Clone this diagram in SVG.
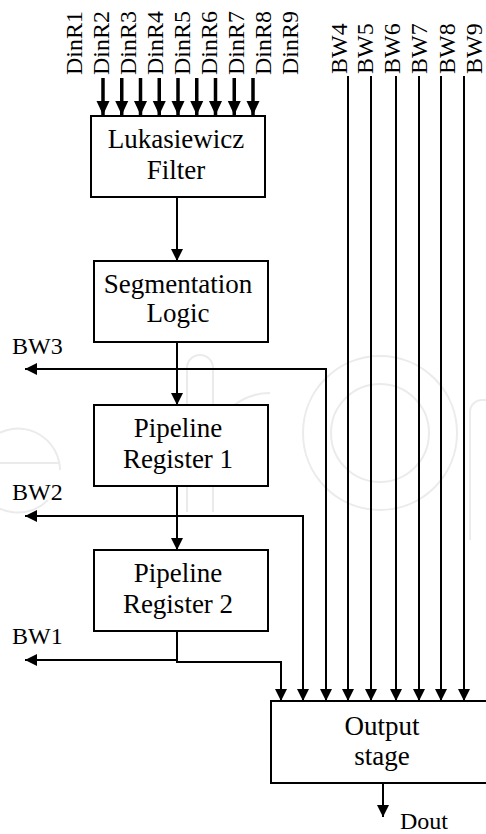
<svg xmlns="http://www.w3.org/2000/svg" width="486" height="834" viewBox="0 0 486 834">
  <style>
    .lbl { font-family: "Liberation Serif", "Times New Roman", serif; font-size: 24px; fill: #000; }
    .box-text { font-family: "Liberation Serif", "Times New Roman", serif; font-size: 27px; fill: #000; text-anchor: middle; }
    .box { fill: #fff; stroke: #000; stroke-width: 2; }
    .wire { fill: none; stroke: #000; stroke-width: 2; }
    .bus { fill: none; stroke: #000; stroke-width: 3.5; }
    .mark { fill: none; stroke: #ebebeb; stroke-width: 2; }
  </style>
  <defs>
    <marker id="arrow" markerUnits="userSpaceOnUse" viewBox="0 0 12 12" refX="12" refY="6" markerWidth="12" markerHeight="12" orient="auto">
      <path d="M0,0 L12,6 L0,12 Z" fill="#000"/>
    </marker>
    <marker id="arrow-bold" markerUnits="userSpaceOnUse" viewBox="0 0 14 14" refX="14" refY="7" markerWidth="14" markerHeight="14" orient="auto">
      <path d="M0,0.5 L14,7 L0,13.5 Z" fill="#000"/>
    </marker>
  </defs>

  <rect width="486" height="834" fill="#fff"/>

  <!-- faint background logo -->
  <g id="background-logo">
    <path class="mark" d="M60,470 A42,42 0 1 0 48,500"/>
    <path class="mark" d="M0,463 H60"/>
    <path class="mark" d="M187,512 V368 A13,13 0 0 1 213,368 V512"/>
    <path class="mark" d="M213,430 Q235,393 270,393"/>
    <circle class="mark" cx="380" cy="433" r="77"/>
    <circle class="mark" cx="380" cy="433" r="49"/>
    <path class="mark" d="M470,540 V412 A12,12 0 0 1 482,400 H490"/>
  </g>

  <!-- input labels -->
  <g id="inputs">
    <text class="lbl" transform="translate(82,75) rotate(-90)">DinR1</text>
    <text class="lbl" transform="translate(109,75) rotate(-90)">DinR2</text>
    <text class="lbl" transform="translate(136,75) rotate(-90)">DinR3</text>
    <text class="lbl" transform="translate(163,75) rotate(-90)">DinR4</text>
    <text class="lbl" transform="translate(190,75) rotate(-90)">DinR5</text>
    <text class="lbl" transform="translate(217,75) rotate(-90)">DinR6</text>
    <text class="lbl" transform="translate(244,75) rotate(-90)">DinR7</text>
    <text class="lbl" transform="translate(271,75) rotate(-90)">DinR8</text>
    <text class="lbl" transform="translate(298,75) rotate(-90)">DinR9</text>
    <text class="lbl" transform="translate(347,74) rotate(-90)">BW4</text>
    <text class="lbl" transform="translate(373,74) rotate(-90)">BW5</text>
    <text class="lbl" transform="translate(400,74) rotate(-90)">BW6</text>
    <text class="lbl" transform="translate(427,74) rotate(-90)">BW7</text>
    <text class="lbl" transform="translate(455,74) rotate(-90)">BW8</text>
    <text class="lbl" transform="translate(482,74) rotate(-90)">BW9</text>
  </g>

  <!-- processing blocks -->
  <g id="lukasiewicz-filter">
    <rect class="box" x="91" y="116" width="174" height="81"/>
    <text class="box-text" x="176" y="148">Lukasiewicz</text>
    <text class="box-text" x="176" y="179">Filter</text>
  </g>
  <g id="segmentation-logic">
    <rect class="box" x="94" y="261" width="174" height="81"/>
    <text class="box-text" x="178" y="293">Segmentation</text>
    <text class="box-text" x="178" y="322">Logic</text>
  </g>
  <g id="pipeline-register-1">
    <rect class="box" x="94" y="405" width="174" height="81"/>
    <text class="box-text" x="178" y="437">Pipeline</text>
    <text class="box-text" x="178" y="468">Register 1</text>
  </g>
  <g id="pipeline-register-2">
    <rect class="box" x="94" y="550" width="174" height="81"/>
    <text class="box-text" x="178" y="582">Pipeline</text>
    <text class="box-text" x="178" y="613">Register 2</text>
  </g>
  <g id="output-stage">
    <rect class="box" x="271" y="701" width="220" height="82"/>
    <text class="box-text" x="382" y="735">Output</text>
    <text class="box-text" x="382" y="765">stage</text>
  </g>

  <!-- output labels -->
  <g id="outputs">
    <text class="lbl" x="12" y="354">BW3</text>
    <text class="lbl" x="12" y="500">BW2</text>
    <text class="lbl" x="12" y="644">BW1</text>
    <text class="lbl" x="400" y="829">Dout</text>
  </g>

  <!-- connectors -->
  <g id="connectors">
    <!-- pixel inputs into the filter -->
    <path class="bus" marker-end="url(#arrow-bold)" d="M103,78 V115"/>
    <path class="bus" marker-end="url(#arrow-bold)" d="M121.75,78 V115"/>
    <path class="bus" marker-end="url(#arrow-bold)" d="M140.5,78 V115"/>
    <path class="bus" marker-end="url(#arrow-bold)" d="M159.25,78 V115"/>
    <path class="bus" marker-end="url(#arrow-bold)" d="M178,78 V115"/>
    <path class="bus" marker-end="url(#arrow-bold)" d="M196.75,78 V115"/>
    <path class="bus" marker-end="url(#arrow-bold)" d="M215.5,78 V115"/>
    <path class="bus" marker-end="url(#arrow-bold)" d="M234.25,78 V115"/>
    <path class="bus" marker-end="url(#arrow-bold)" d="M253,78 V115"/>

    <!-- main pipeline -->
    <path class="wire" marker-end="url(#arrow)" d="M177,197 V261"/>
    <path class="wire" marker-end="url(#arrow)" d="M177,342 V405"/>
    <path class="wire" marker-end="url(#arrow)" d="M177,486 V550"/>

    <!-- BW3 tap -->
    <path class="wire" marker-end="url(#arrow)" d="M326,701 V369 H25"/>
    <!-- BW2 tap -->
    <path class="wire" marker-end="url(#arrow)" d="M303,701 V516 H25"/>
    <!-- BW1 tap -->
    <path class="wire" d="M177,631 V662"/>
    <path class="wire" marker-end="url(#arrow)" d="M178,660 H25"/>
    <path class="wire" marker-end="url(#arrow)" d="M176,662 H281 V701"/>
    <!-- BW3 and BW2 into the output stage -->
    <path class="wire" marker-end="url(#arrow)" d="M303,690 V701"/>
    <path class="wire" marker-end="url(#arrow)" d="M326,690 V701"/>

    <!-- BW4..BW9 straight into the output stage -->
    <path class="wire" marker-end="url(#arrow)" d="M348,76 V701"/>
    <path class="wire" marker-end="url(#arrow)" d="M371,76 V701"/>
    <path class="wire" marker-end="url(#arrow)" d="M396,76 V701"/>
    <path class="wire" marker-end="url(#arrow)" d="M419,76 V701"/>
    <path class="wire" marker-end="url(#arrow)" d="M441,76 V701"/>
    <path class="wire" marker-end="url(#arrow)" d="M464,76 V701"/>

    <!-- result -->
    <path class="wire" marker-end="url(#arrow)" d="M383,783 V817"/>
  </g>
</svg>
